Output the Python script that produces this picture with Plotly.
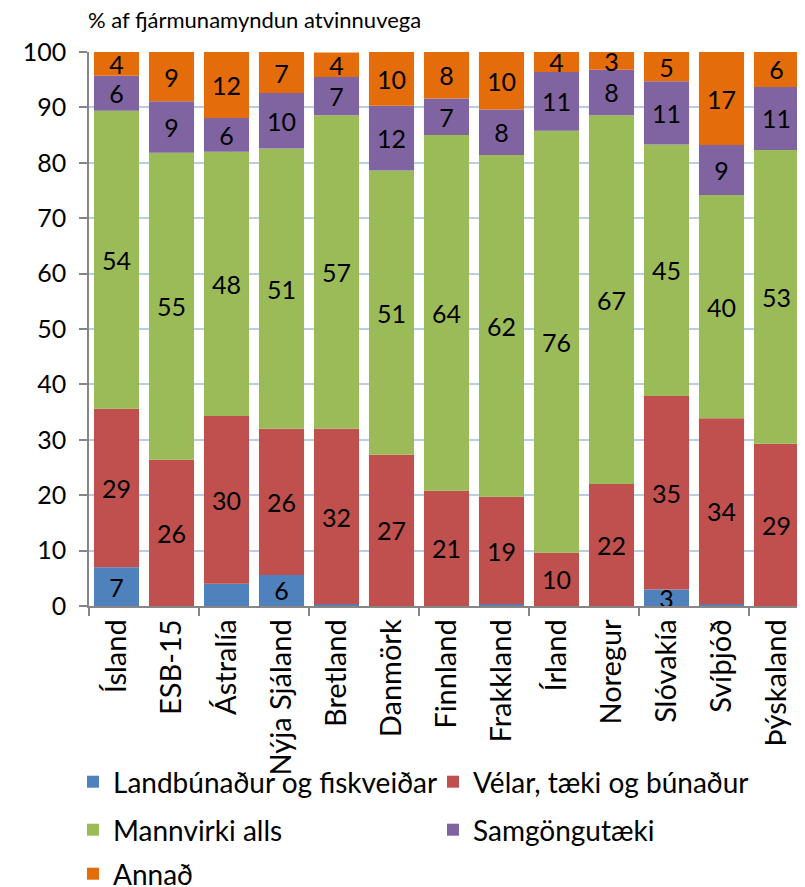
import plotly.graph_objects as go

countries = ["Ísland", "ESB-15", "Ástralía", "Nýja Sjáland", "Bretland", "Danmörk", "Finnland",
             "Frakkland", "Írland", "Noregur", "Slóvakía", "Svíþjóð", "Þýskaland"]

landbunadur = [7.0, 0.0, 4.0, 5.6, 0.3, -0.3, 0.0, 0.3, 0.0, 0.0, 3.0, 0.3, -0.3]
velar = [28.6, 26.4, 30.3, 26.4, 31.7, 27.3, 20.8, 19.4, 9.6, 22.0, 34.9, 33.6, 29.3]
mannvirki = [53.8, 55.4, 47.7, 50.6, 56.6, 51.3, 64.2, 61.7, 76.2, 66.6, 45.4, 40.3, 53.0]
samgongutaeki = [6.3, 9.3, 6.1, 10.0, 6.9, 11.7, 6.6, 8.2, 10.6, 8.2, 11.4, 9.0, 11.4]
annad = [4.3, 8.9, 11.9, 7.4, 4.4, 9.7, 8.4, 10.4, 3.6, 3.2, 5.3, 16.8, 6.3]

# which agriculture values carry a label in the original
landbunadur_label = [True, False, False, True, False, False, False,
                     False, False, False, True, False, False]

# page has an 8px body margin, so the figure is 8px smaller than the window
W, H = 797, 879

# name, values, colour, legend id, legend x/y (pixels in the figure)
series = [
    ("Landbúnaður og fiskveiðar", landbunadur, "#4F81BD", "legend", 65, 774),
    ("Vélar, tæki og búnaður", velar, "#C0504D", "legend2", 425, 774),
    ("Mannvirki alls", mannvirki, "#9BBB59", "legend3", 65, 822),
    ("Samgöngutæki", samgongutaeki, "#8064A2", "legend4", 425, 822),
    ("Annað", annad, "#E46C0A", "legend5", 65, 866),
]

font = "Lato, 'Open Sans', sans-serif"
x = list(range(len(countries)))

fig = go.Figure()
legends = {}
for name, vals, color, leg, lx, ly in series:
    if vals is landbunadur:
        text = [f"{v:.0f}" if show else "" for v, show in zip(vals, landbunadur_label)]
    else:
        text = [f"{v:.0f}" for v in vals]
    fig.add_trace(go.Bar(
        x=x, y=vals, name=name, marker_color=color, marker_line_width=0,
        text=text, textposition="inside", insidetextanchor="middle", textangle=0,
        textfont=dict(family=font, size=25, color="black"),
        legend=leg, showlegend=True,
    ))
    legends[leg] = dict(orientation="h", xref="container", yref="container",
                        x=lx / W, xanchor="left", y=1 - ly / H, yanchor="middle",
                        font=dict(family=font, size=28, color="black"),
                        bgcolor="rgba(0,0,0,0)", itemclick=False, visible=True)

fig.update_layout(
    barmode="relative",
    bargap=0.18,
    width=W, height=H,
    margin=dict(l=81, r=1, t=44, b=281, autoexpand=False),
    plot_bgcolor="white", paper_bgcolor="white",
    font=dict(family=font, size=24, color="black"),
    uniformtext=dict(minsize=25, mode="show"),
    showlegend=True,
    title=dict(text="% af fjármunamyndun atvinnuvega", x=80 / W, xanchor="left",
               y=1 - 12 / H, yanchor="middle", xref="container",
               font=dict(family=font, size=22, color="black")),
    **legends,
)

fig.update_xaxes(
    range=[-0.5, len(countries) - 0.5], automargin=False,
    tickmode="array", tickvals=x, ticktext=countries, tickangle=-90,
    ticks="", showgrid=False, zeroline=False,
    showline=True, linecolor="#868686", linewidth=1.5,
    tickfont=dict(family=font, size=29, color="black"),
    minor=dict(tickmode="array", tickvals=[i - 0.5 for i in range(0, len(countries), 2)],
               ticks="outside", ticklen=8, tickcolor="#868686", tickwidth=1.5, showgrid=False),
)
fig.update_yaxes(
    range=[0, 100], dtick=10, ticks="outside", ticklen=8, tickcolor="#868686", tickwidth=1.5,
    showline=True, linecolor="#868686", linewidth=1.5, ticklabelstandoff=8, automargin=False,
    showgrid=True, gridcolor="#B9CDE5", gridwidth=1.5, zeroline=False,
    tickfont=dict(family=font, size=25, color="black"),
)

fig.write_html("out.html")
